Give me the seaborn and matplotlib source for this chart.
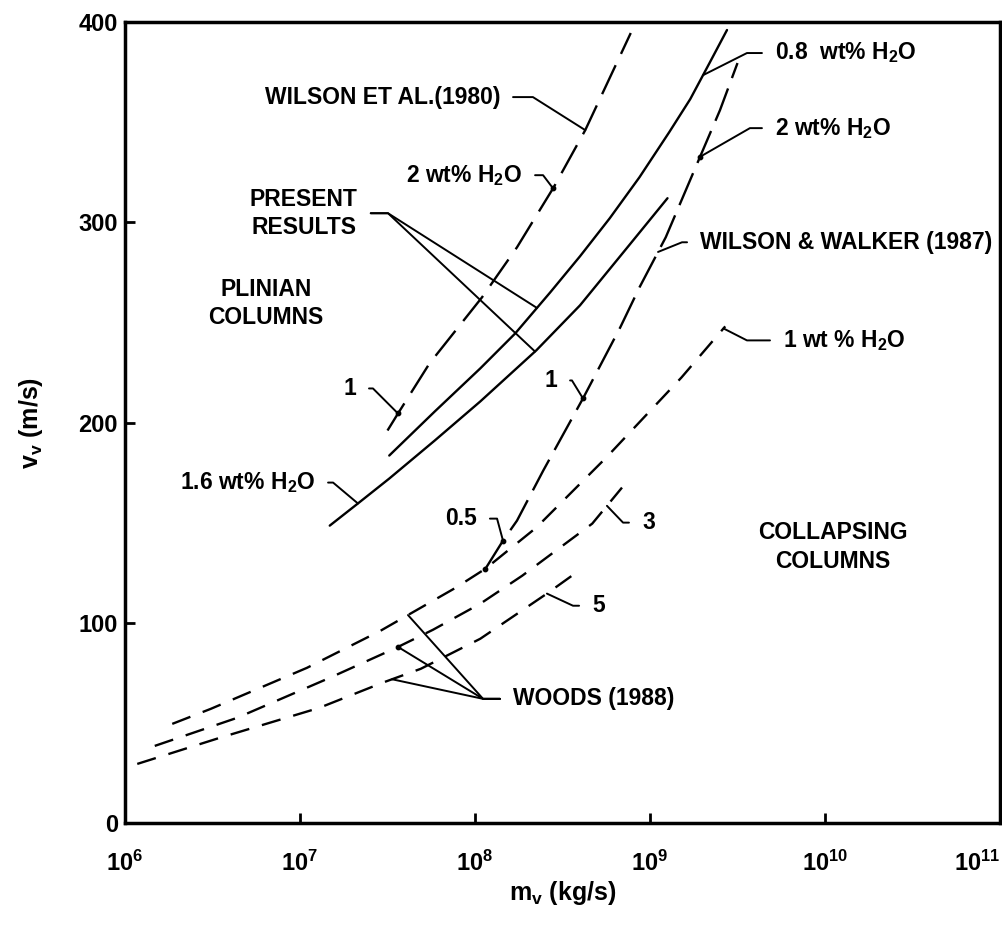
import numpy as np
import pandas as pd
import seaborn as sns
import matplotlib.pyplot as plt

# curves: log10 of mass flux m_v (kg/s) and exit velocity v_v (m/s)
wilson80_logm = [7.50, 7.56, 7.74, 8.04, 8.24, 8.45, 8.63, 8.89]
wilson80_v = [196, 204.5, 229.5, 262.5, 287.5, 317.5, 346, 394.5]

present08_logm = [7.51, 7.77, 8.03, 8.23, 8.43, 8.60, 8.77, 8.94, 9.11, 9.23, 9.34, 9.44]
present08_v = [183.5, 205.5, 227, 244.5, 265, 283, 302, 322.5, 345, 361.5, 379.5, 396]

present16_logm = [7.17, 7.33, 7.51, 7.77, 8.03, 8.35, 8.60, 8.89, 9.10]
present16_v = [148.5, 159.5, 172, 191, 210.5, 236, 258.5, 289.5, 312]

ww87_logm = [8.06, 8.16, 8.24, 8.39, 8.62, 8.74, 8.83, 8.94, 9.09, 9.29, 9.40, 9.50]
ww87_v = [127, 141, 151, 176, 212.5, 232.5, 247.5, 267.5, 292.5, 333.5, 356, 379.5]

woods1_logm = [6.27, 6.49, 7.04, 7.46, 7.89, 8.06, 8.35, 8.75, 9.18, 9.43]
woods1_v = [49.5, 57, 77.5, 96, 117.5, 127, 147.5, 182.5, 222.5, 248]

woods3_logm = [6.17, 6.64, 7.17, 7.55, 7.76, 8.03, 8.27, 8.67, 8.84]
woods3_v = [38.5, 52.5, 72.5, 87.5, 96.5, 109.5, 123.5, 149.5, 167.5]

woods5_logm = [6.07, 6.54, 7.11, 7.47, 7.69, 8.03, 8.41, 8.57]
woods5_v = [29.5, 42.5, 57.5, 70, 77, 92, 114.5, 124.5]

x_ticks = [1e6, 1e7, 1e8, 1e9, 1e10, 1e11]
x_ticklabels = ['10$^{6}$', '10$^{7}$', '10$^{8}$', '10$^{9}$', '10$^{10}$', '10$^{11}$']
y_ticks = [0, 100, 200, 300, 400]

curves = {
    'wilson80': (wilson80_logm, wilson80_v),
    'present08': (present08_logm, present08_v),
    'present16': (present16_logm, present16_v),
    'ww87': (ww87_logm, ww87_v),
    'woods1': (woods1_logm, woods1_v),
    'woods3': (woods3_logm, woods3_v),
    'woods5': (woods5_logm, woods5_v),
}

rows = []
for name, (lm, v) in curves.items():
    for a, b in zip(lm, v):
        rows.append({'curve': name, 'm': 10 ** a, 'v': b})
df = pd.DataFrame(rows)

dash_map = {
    'wilson80': (23, 9),
    'present08': '',
    'present16': '',
    'ww87': (25, 8),
    'woods1': (14, 9.5),
    'woods3': (14, 9.5),
    'woods5': (14, 9.5),
}

sns.set_style('ticks')
plt.rcParams['font.family'] = ['Liberation Sans', 'DejaVu Sans']
plt.rcParams['mathtext.fontset'] = 'custom'
plt.rcParams['mathtext.rm'] = 'Liberation Sans'
plt.rcParams['mathtext.bf'] = 'Liberation Sans:bold'
plt.rcParams['mathtext.default'] = 'regular'
plt.rcParams['lines.scale_dashes'] = False
plt.rcParams['text.color'] = 'black'
plt.rcParams['axes.labelcolor'] = 'black'

fig = plt.figure(figsize=(10.02, 9.25), dpi=100)
ax = fig.add_axes([125 / 1002, 1 - 823 / 925, 875 / 1002, 801 / 925])
ax.set_xscale('log')

sns.lineplot(data=df, x='m', y='v', units='curve', estimator=None, sort=False,
             style='curve', dashes=dash_map, color='black', linewidth=1.7,
             legend=False, ax=ax)

ax.set_xlim(1e6, 1e11)
ax.set_ylim(0, 400)
ax.set_xticks(x_ticks)
ax.set_xticklabels(x_ticklabels)
ax.minorticks_off()
ax.set_yticks(y_ticks)
ax.tick_params(axis='both', direction='in', length=7, width=2, labelsize=17,
               colors='black')
ax.tick_params(axis='x', pad=20)
ax.tick_params(axis='y', pad=5)
for lab in ax.get_xticklabels() + ax.get_yticklabels():
    lab.set_fontweight('bold')
# last x label sits inside the figure, flush with the right spine
ax.get_xticklabels()[-1].set_horizontalalignment('right')
for s in ax.spines.values():
    s.set_linewidth(2.5)
    s.set_color('black')

ax.set_xlabel('m$_{v}$ (kg/s)', fontsize=18, fontweight='bold', labelpad=2)
ax.set_ylabel('v$_{v}$ (m/s)', fontsize=18, fontweight='bold', labelpad=24)


def on(name, lm):
    # point on a curve at log10(m) = lm
    xs, ys = curves[name]
    return (10 ** lm, np.interp(lm, xs, ys))


txt = dict(fontsize=16.5, fontweight='bold')


def leader(text, xy, text_lm, corner_lm, v, side='left', show=True, **kw):
    # text with a kinked leader: horizontal stub at height v up to the corner,
    # then a straight run from the corner to the point xy on the curve
    p0 = ax.transData.transform((10 ** corner_lm, v))
    p1 = ax.transData.transform(xy)
    angle = np.degrees(np.arctan2(p1[1] - p0[1], p1[0] - p0[0]))
    ha = 'right' if side == 'left' else 'left'
    rel = (1, 0.5) if side == 'left' else (0, 0.5)
    ax.annotate(text, xy=xy, xytext=(10 ** text_lm, v), ha=ha, va='center',
                color='black' if show else 'none',
                arrowprops=dict(arrowstyle='-', color='black', lw=1.4, relpos=rel,
                                shrinkA=7, shrinkB=0,
                                connectionstyle='angle,angleA=0,angleB=%g,rad=0' % angle),
                **txt, **kw)


H2O = 'H$_{2}$O'
leader('WILSON ET AL.(1980)', on('wilson80', 8.63), 8.143, 8.331, 362.5)
leader('2 wt% ' + H2O, on('wilson80', 8.446), 8.269, 8.389, 323.5)
leader('1', on('wilson80', 7.56), 7.32, 7.417, 217)
leader('PRESENT\nRESULTS', on('present08', 8.354), 7.33, 7.503, 304.5,
       multialignment='center', linespacing=1.3)
leader('PRESENT\nRESULTS', on('present16', 8.343), 7.33, 7.503, 304.5, show=False,
       multialignment='center', linespacing=1.3)
leader('1.6 wt% ' + H2O, on('present16', 7.331), 7.086, 7.189, 170)
leader('0.8  wt% ' + H2O, on('present08', 9.303), 9.714, 9.554, 384.5, side='right')
leader('2 wt% ' + H2O, on('ww87', 9.286), 9.714, 9.571, 347, side='right')
leader('WILSON & WALKER (1987)', on('ww87', 9.046), 9.286, 9.183, 290, side='right')
leader('1 wt % ' + H2O, on('woods1', 9.42), 9.76, 9.554, 241, side='right')
leader('1', on('ww87', 8.617), 8.469, 8.554, 221)
leader('0.5', on('ww87', 8.16), 8.011, 8.126, 152)
leader('3', on('woods3', 8.754), 8.954, 8.846, 150, side='right')
leader('5', on('woods5', 8.411), 8.669, 8.56, 108.5, side='right')
leader('WOODS (1988)', on('woods1', 7.617), 8.217, 8.046, 62, side='right')
leader('WOODS (1988)', on('woods3', 7.56), 8.217, 8.046, 62, side='right', show=False)
leader('WOODS (1988)', on('woods5', 7.526), 8.217, 8.046, 62, side='right', show=False)

# small dots where the water-content leaders meet the curves
dots = [on('wilson80', 7.56), on('wilson80', 8.446), on('ww87', 8.06), on('ww87', 8.16),
        on('ww87', 8.617), on('ww87', 9.286), on('woods3', 7.56)]
ax.scatter([d[0] for d in dots], [d[1] for d in dots], s=10, color='black', zorder=3)

ax.text(10 ** 6.806, 259.5, 'PLINIAN\nCOLUMNS', ha='center', va='center', linespacing=1.3, **txt)
ax.text(10 ** 10.046, 138, 'COLLAPSING\nCOLUMNS', ha='center', va='center', linespacing=1.35, **txt)

fig.savefig('out.png', dpi=100)
